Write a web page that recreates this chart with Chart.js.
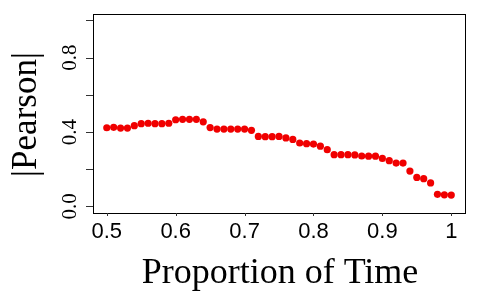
<!DOCTYPE html>
<html>
<head>
<meta charset="utf-8">
<script src="https://cdn.jsdelivr.net/npm/chart.js@4/dist/chart.umd.min.js"></script>
<style>
  html, body { margin: 0; padding: 0; background: #ffffff; }
  #wrap { width: 480px; height: 300px; }
</style>
</head>
<body>
<div id="wrap"><canvas id="c" width="480" height="300"></canvas></div>
<script>
const proportions = [0.50,0.51,0.52,0.53,0.54,0.55,0.56,0.57,0.58,0.59,
                     0.60,0.61,0.62,0.63,0.64,0.65,0.66,0.67,0.68,0.69,
                     0.70,0.71,0.72,0.73,0.74,0.75,0.76,0.77,0.78,0.79,
                     0.80,0.81,0.82,0.83,0.84,0.85,0.86,0.87,0.88,0.89,
                     0.90,0.91,0.92,0.93,0.94,0.95,0.96,0.97,0.98,0.99,1.00];
const pearsonAbs = [0.423,0.425,0.421,0.421,0.434,0.445,0.447,0.445,0.445,0.447,
                    0.466,0.468,0.468,0.468,0.455,0.424,0.416,0.416,0.416,0.416,
                    0.416,0.409,0.376,0.375,0.375,0.376,0.368,0.360,0.341,0.337,
                    0.335,0.324,0.305,0.278,0.278,0.278,0.277,0.271,0.270,0.270,
                    0.258,0.246,0.233,0.233,0.190,0.156,0.149,0.126,0.065,0.062,0.061];
const xTickValues = [0.5,0.6,0.7,0.8,0.9,1.0];
const xTickLabels = ["0.5","0.6","0.7","0.8","0.9","1"];
const yTickValues = [0.0,0.2,0.4,0.6,0.8,1.0];
const yTickLabels = ["0.0","","0.4","","0.8",""];
const xTitle = "Proportion of Time";
const yTitle = "|Pearson|";

const points = proportions.map((p, i) => ({ x: p, y: pearsonAbs[i] }));

const axesPlugin = {
  id: 'rAxes',
  afterDraw(chart) {
    const ctx = chart.ctx;
    const a = chart.chartArea;
    const xs = chart.scales.x, ys = chart.scales.y;
    ctx.save();
    ctx.strokeStyle = '#000';
    ctx.lineWidth = 1;
    ctx.strokeRect(a.left + 0.5, a.top + 0.5, a.right - a.left - 1, a.bottom - a.top);
    ctx.strokeStyle = '#333';
    xTickValues.forEach(v => {
      const px = Math.round(xs.getPixelForValue(v)) + 0.5;
      ctx.beginPath();
      ctx.moveTo(px, a.bottom);
      ctx.lineTo(px, a.bottom + 3);
      ctx.stroke();
    });
    yTickValues.forEach(v => {
      const py = Math.round(ys.getPixelForValue(v)) + 0.5;
      ctx.beginPath();
      ctx.moveTo(a.left, py);
      ctx.lineTo(a.left - 7, py);
      ctx.stroke();
    });
    ctx.fillStyle = '#000';
    ctx.font = '22px "Liberation Sans", Arial, sans-serif';
    ctx.textAlign = 'center';
    ctx.textBaseline = 'alphabetic';
    xTickValues.forEach((v, i) => {
      ctx.fillText(xTickLabels[i], xs.getPixelForValue(v), 238);
    });
    ctx.font = '21px "Liberation Serif", "Times New Roman", serif';
    yTickValues.forEach((v, i) => {
      if (!yTickLabels[i]) return;
      ctx.save();
      ctx.translate(75.5, ys.getPixelForValue(v));
      ctx.rotate(-Math.PI / 2);
      ctx.textAlign = 'center';
      ctx.fillText(yTickLabels[i], 0, 0);
      ctx.restore();
    });
    ctx.font = '36px "Liberation Serif", "Times New Roman", serif';
    ctx.textAlign = 'center';
    ctx.fillText(xTitle, 280, 283);
    ctx.save();
    ctx.translate(36, 114.5);
    ctx.rotate(-Math.PI / 2);
    ctx.textAlign = 'center';
    ctx.font = '35px "Liberation Serif", "Times New Roman", serif';
    ctx.fillText(yTitle, 0, 0);
    ctx.restore();
    ctx.restore();
  }
};

new Chart(document.getElementById('c'), {
  type: 'scatter',
  data: {
    datasets: [{
      data: points,
      backgroundColor: '#f00000',
      borderColor: '#f00000',
      borderWidth: 0,
      pointRadius: 3.6,
      pointHoverRadius: 3.6
    }]
  },
  options: {
    responsive: false,
    animation: false,
    devicePixelRatio: 1,
    layout: { padding: { left: 93, right: 14, top: 14, bottom: 87 } },
    plugins: { legend: { display: false }, tooltip: { enabled: false } },
    scales: {
      x: { type: 'linear', min: 0.48, max: 1.0214, display: false },
      y: { type: 'linear', min: -0.0355, max: 1.0345, display: false }
    }
  },
  plugins: [axesPlugin]
});
</script>
</body>
</html>
